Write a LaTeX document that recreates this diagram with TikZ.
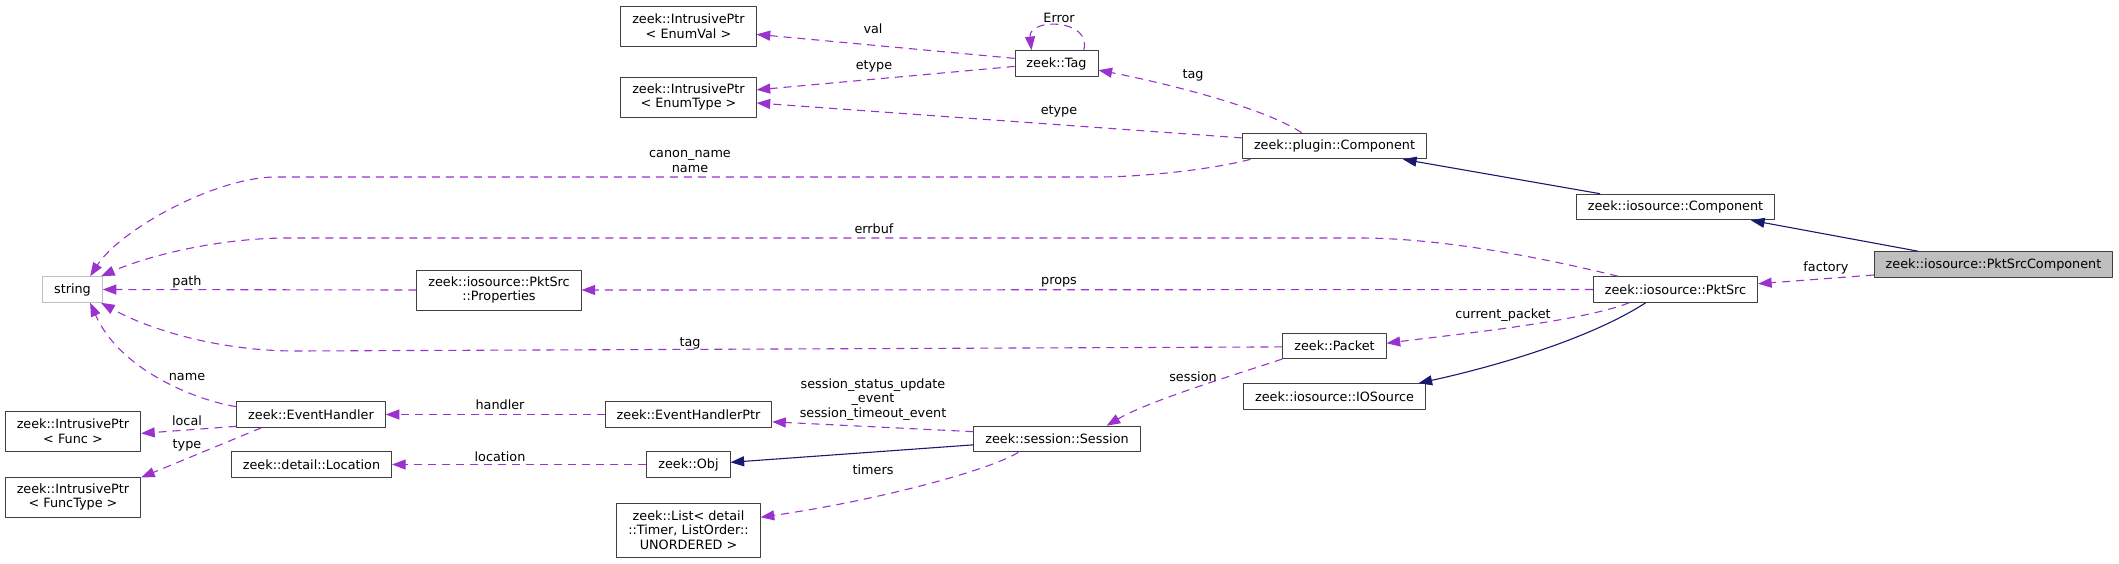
\documentclass[tikz,border=0pt]{standalone}
\usepackage{fontspec}
\setmainfont{DejaVu Sans}
\usetikzlibrary{arrows.meta}
\definecolor{edgepurple}{HTML}{9A32CD}
\definecolor{edgeblue}{HTML}{191970}
\definecolor{boxgray}{HTML}{404040}
\definecolor{strgray}{HTML}{BFBFBF}
\begin{document}
\begin{tikzpicture}[x=0.5pt,y=-0.5pt,>={Triangle[length=6.8pt,width=5pt]},
	font=\fontsize{6.4}{7.3}\selectfont, line join=round,
	cls/.style={draw=boxgray,line width=0.5pt,fill=white,inner xsep=5.7pt,inner ysep=1.5pt,minimum height=12.8pt,align=center},
	cls2/.style={cls,minimum height=20pt},
	cls3/.style={cls,minimum height=27pt},
	uses/.style={->,edgepurple,line width=0.55pt,dash pattern=on 4pt off 3pt},
	inh/.style={->,edgeblue,line width=0.55pt},
	lbl/.style={inner sep=0pt,align=center}]
	\useasboundingbox (0,0) rectangle (2119,563);
	% classes
	\node[cls2] (enumval) at (688.5,26) {zeek::IntrusivePtr\\< EnumVal >};
	\node[cls2] (enumtype) at (688.5,97) {zeek::IntrusivePtr\\< EnumType >};
	\node[cls] (tag) at (1056.5,63.5) {zeek::Tag};
	\node[cls] (plugcomp) at (1334.5,146) {zeek::plugin::Component};
	\node[cls] (iocomp) at (1675.5,207) {zeek::iosource::Component};
	\node[cls,fill=strgray] (pscomp) at (1993.5,264.5) {zeek::iosource::PktSrcComponent};
	\node[cls] (pktsrc) at (1675.5,289.5) {zeek::iosource::PktSrc};
	\node[cls,draw=strgray] (str) at (72.5,289.5) {string};
	\node[cls2] (props) at (499,290) {zeek::iosource::PktSrc\\::Properties};
	\node[cls] (packet) at (1334.5,346) {zeek::Packet};
	\node[cls] (iosrc) at (1334.5,396.5) {zeek::iosource::IOSource};
	\node[cls] (session) at (1057,439) {zeek::session::Session};
	\node[cls] (evh) at (311,414.5) {zeek::EventHandler};
	\node[cls] (evhptr) at (688.5,414.5) {zeek::EventHandlerPtr};
	\node[cls] (obj) at (688.5,464.5) {zeek::Obj};
	\node[cls] (loc) at (311.5,464.5) {zeek::detail::Location};
	\node[cls3] (list) at (688.5,530) {zeek::List< detail\\::Timer, ListOrder::\\UNORDERED >};
	\node[cls2] (func) at (73,431) {zeek::IntrusivePtr\\< Func >};
	\node[cls2] (functype) at (73,497) {zeek::IntrusivePtr\\< FuncType >};
	% members
	\draw[uses] (tag.173.8) -- (enumval.353.3);
	\draw[uses] (tag.184.8) -- (enumtype.6.7);
	\draw[uses] (tag.26) .. controls (1092,18) and (1028,18) .. (tag.152);
	\draw[uses] (plugcomp.158) .. controls (1260,105) and (1150,80) .. (tag.351);
	\draw[uses] (plugcomp.175.7) -- (enumtype.355);
	\draw[uses] (plugcomp.189.4) .. controls (1210,170) and (1140,177) .. (1098,177) -- (276,177)
		.. controls (215,177) and (120,230) .. (str.37);
	\draw[uses] (pscomp.185) -- (pktsrc.4.5);
	\draw[uses] (pktsrc.167.3) .. controls (1560,262) and (1450,238) .. (1360,238) -- (288,238)
		.. controls (220,238) and (150,255) .. (str.25);
	\draw[uses] (pktsrc.west) -- (props.east);
	\draw[uses] (props.west) -- (str.east);
	\draw[uses] (pktsrc.196.2) .. controls (1580,322) and (1450,335) .. (packet.3.3);
	\draw[uses] (packet.181) -- (296,351) .. controls (220,351) and (150,330) .. (str.335);
	\draw[uses] (packet.194) .. controls (1250,370) and (1150,400) .. (session.15);
	\draw[uses] (session.175.9) -- (evhptr.355.2);
	\draw[uses] (session.199.9) .. controls (990,470) and (880,500) .. (list.10.3);
	\draw[uses] (evhptr.west) -- (evh.east);
	\draw[uses] (obj.west) -- (loc.east);
	\draw[uses] (evh.174.7) .. controls (195,400) and (120,370) .. (str.323);
	\draw[uses] (evh.189) -- (func.358.3);
	\draw[uses] (evh.195.8) -- (functype.16);
	% base classes
	\draw[inh] (iocomp.170) -- (plugcomp.349.8);
	\draw[inh] (pscomp.170.2) -- (iocomp.350.5);
	\draw[inh] (pktsrc.204.4) .. controls (1580,345) and (1470,372) .. (iosrc.9.4);
	\draw[inh] (session.184.1) -- (obj.3.4);
	% edge labels
	\node[lbl] (lerror) at (1059,18) {Error};
	\node[lbl] (lval) at (873,29) {val};
	\node[lbl] (letype) at (874,66) {etype};
	\node[lbl] (ltag) at (1193,75) {tag};
	\node[lbl] (letypeb) at (1059,111) {etype};
	\node[lbl] (lname) at (690,161.5) {canon\_name\\name};
	\node[lbl] (lerrbuf) at (874,229) {errbuf};
	\node[lbl] (lprops) at (1059,282) {props};
	\node[lbl] (lpath) at (187,282) {path};
	\node[lbl] (lfactory) at (1826,268) {factory};
	\node[lbl] (lcurpkt) at (1503,315) {current\_packet};
	\node[lbl] (ltagb) at (690,343) {tag};
	\node[lbl] (lsession) at (1193,377) {session};
	\node[lbl] (lnameb) at (187,377) {name};
	\node[lbl] (levents) at (873,399.5) {session\_status\_update\\\_event\\session\_timeout\_event};
	\node[lbl] (lhandler) at (500,405) {handler};
	\node[lbl] (llocal) at (187,421) {local};
	\node[lbl] (ltype) at (187,445) {type};
	\node[lbl] (llocation) at (500,457) {location};
	\node[lbl] (ltimers) at (873,470) {timers};
\end{tikzpicture}
\end{document}
